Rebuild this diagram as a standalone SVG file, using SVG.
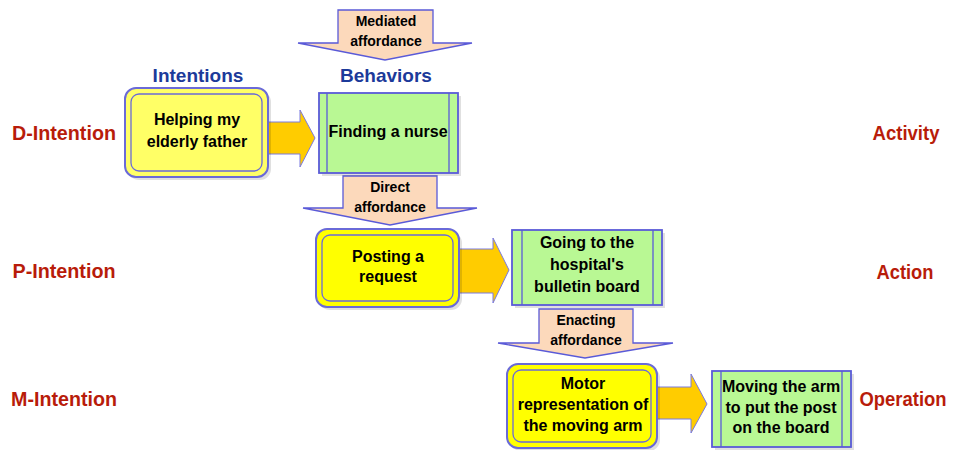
<svg xmlns="http://www.w3.org/2000/svg" width="953" height="450" viewBox="0 0 953 450">
<style>
.lbl{font-family:"Liberation Sans",Arial,sans-serif;font-weight:bold;font-size:21px;fill:#b81c0a;text-anchor:middle}
.hdr{font-family:"Liberation Sans",Arial,sans-serif;font-weight:bold;font-size:19px;fill:#1c3a9a;text-anchor:middle}
.t{font-family:"Liberation Sans",Arial,sans-serif;font-weight:bold;font-size:16px;fill:#000;text-anchor:middle}
.s{font-family:"Liberation Sans",Arial,sans-serif;font-weight:bold;font-size:14px;fill:#000;text-anchor:middle}
.yo{stroke:#6a6ad8;stroke-width:2}
.yi{fill:none;stroke:#6a6ad8;stroke-width:1.3}
.g{fill:#b9f894;stroke:#5a5ad8;stroke-width:1.8}
.gl{stroke:#5a5ad8;stroke-width:1.3}
.ar{fill:#ffcc00;stroke:#7a7ae0;stroke-width:1}
.af{fill:#fcd9bb;stroke:#5a5ad8;stroke-width:1.3}
.sh{fill:#000;opacity:0.12}
</style>
<rect width="953" height="450" fill="#fff"/>

<g id="row-labels">
<text class="lbl" x="64" y="140" textLength="104" lengthAdjust="spacingAndGlyphs">D-Intention</text>
<text class="lbl" x="64" y="278" textLength="103" lengthAdjust="spacingAndGlyphs">P-Intention</text>
<text class="lbl" x="64" y="406" textLength="106" lengthAdjust="spacingAndGlyphs">M-Intention</text>
<text class="lbl" x="906" y="140" textLength="67" lengthAdjust="spacingAndGlyphs">Activity</text>
<text class="lbl" x="905" y="279" textLength="57" lengthAdjust="spacingAndGlyphs">Action</text>
<text class="lbl" x="903" y="406" style="font-size:20px" textLength="87" lengthAdjust="spacingAndGlyphs">Operation</text>
</g>

<g id="headers">
<text class="hdr" x="198" y="82">Intentions</text>
<text class="hdr" x="386" y="82">Behaviors</text>
</g>

<g id="connectors">
<polygon class="ar" points="268,122 300,122 300,110 315,138 300,167 300,154 268,154"/>
<polygon class="ar" points="459,249 493,249 493,238 509,270 493,303 493,293 459,293"/>
<polygon class="ar" points="657,387 691,387 691,374 707,404 691,433 691,419 657,419"/>
<g id="mediated-affordance">
<polygon class="af" points="338,10 433,10 433,43 472,43 385,60 298,43 338,43"/>
<text class="s" x="386" y="26">Mediated</text>
<text class="s" x="386" y="46">affordance</text>
</g>
<g id="direct-affordance">
<polygon class="af" points="343,176 437,176 437,208 477,208 390,225 303,208 343,208"/>
<text class="s" x="390" y="192">Direct</text>
<text class="s" x="390" y="212">affordance</text>
</g>
<g id="enacting-affordance">
<polygon class="af" points="539,309 633,309 633,343 673,343 585,358 498,343 539,343"/>
<text class="s" x="586" y="325">Enacting</text>
<text class="s" x="586" y="345">affordance</text>
</g>
</g>

<g id="helping">
<rect class="sh" x="128" y="91" width="143" height="89" rx="11"/>
<rect class="yo" x="125" y="88" width="143" height="89" rx="11" fill="#ffff66"/>
<rect class="yi" x="131" y="94" width="131" height="77" rx="8"/>
<text class="t" x="197" y="125">Helping my</text>
<text class="t" x="197" y="147">elderly father</text>
</g>

<g id="finding">
<rect class="sh" x="322" y="96" width="139" height="80"/>
<rect class="g" x="319" y="93" width="139" height="80"/>
<line class="gl" x1="327" y1="93" x2="327" y2="173"/>
<line class="gl" x1="449" y1="93" x2="449" y2="173"/>
<text class="t" x="388" y="137">Finding a nurse</text>
</g>

<g id="posting">
<rect class="sh" x="319" y="232" width="143" height="78" rx="11"/>
<rect class="yo" x="316" y="229" width="143" height="78" rx="11" fill="#ffff00"/>
<rect class="yi" x="322" y="235" width="131" height="66" rx="8"/>
<text class="t" x="388" y="262">Posting a</text>
<text class="t" x="388" y="282">request</text>
</g>

<g id="going">
<rect class="sh" x="515" y="233" width="150" height="75"/>
<rect class="g" x="512" y="230" width="150" height="75"/>
<line class="gl" x1="522" y1="230" x2="522" y2="305"/>
<line class="gl" x1="653" y1="230" x2="653" y2="305"/>
<text class="t" x="587" y="248">Going to the</text>
<text class="t" x="587" y="270">hospital's</text>
<text class="t" x="587" y="292">bulletin board</text>
</g>

<g id="motor">
<rect class="sh" x="510" y="367" width="150" height="84" rx="11"/>
<rect class="yo" x="507" y="364" width="150" height="84" rx="11" fill="#ffff00"/>
<rect class="yi" x="513" y="370" width="138" height="72" rx="8"/>
<text class="t" x="583" y="389">Motor</text>
<text class="t" x="583" y="410">representation of</text>
<text class="t" x="583" y="431">the moving arm</text>
</g>

<g id="moving">
<rect class="sh" x="715" y="374" width="139" height="76"/>
<rect class="g" x="712" y="371" width="139" height="76"/>
<line class="gl" x1="721" y1="371" x2="721" y2="447"/>
<line class="gl" x1="842" y1="371" x2="842" y2="447"/>
<text class="t" x="781" y="392">Moving the arm</text>
<text class="t" x="781" y="413">to put the post</text>
<text class="t" x="781" y="433">on the board</text>
</g>
</svg>
